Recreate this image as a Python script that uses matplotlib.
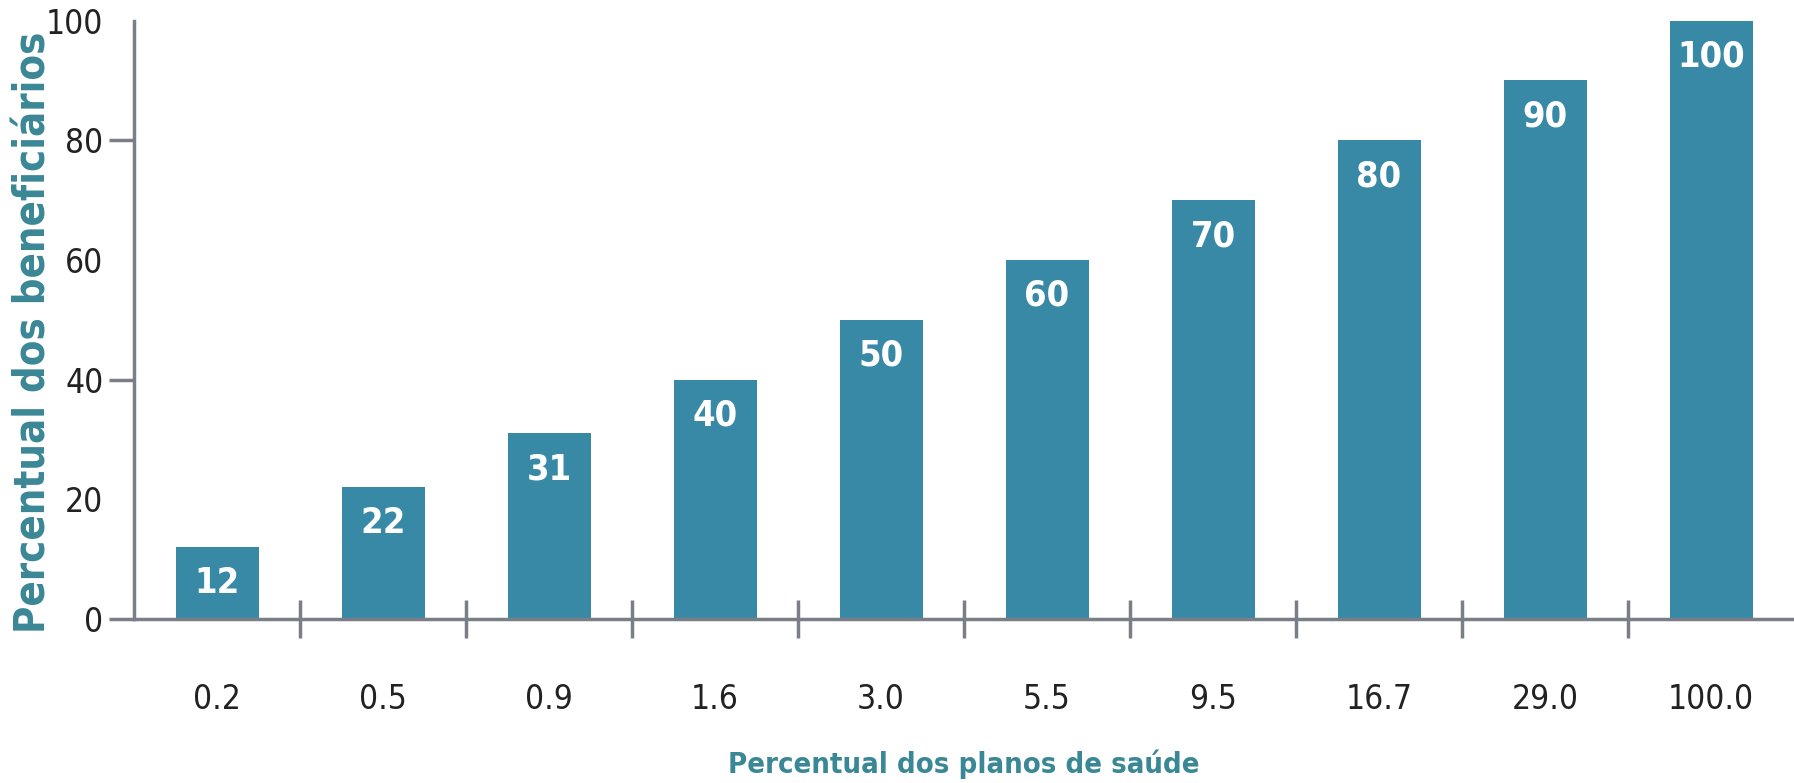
import matplotlib
matplotlib.use("Agg")
import matplotlib.pyplot as plt

plt.rcParams['font.family'] = ['DejaVu Sans']
plt.rcParams['font.stretch'] = 'condensed'

# dados
planos = ["0.2", "0.5", "0.9", "1.6", "3.0", "5.5", "9.5", "16.7", "29.0", "100.0"]
beneficiarios = [12, 22, 31, 40, 50, 60, 70, 80, 90, 100]

cor_barra = "#3889a6"
cor_eixo = "#7a7f87"
cor_titulo = "#3a8796"

fig = plt.figure(figsize=(17.94, 7.83), dpi=100)
ax = fig.add_axes([0.0747, 0.2095, 0.9253, 0.7642])

posicoes = list(range(len(planos)))
ax.bar(posicoes, beneficiarios, width=0.5, color=cor_barra, zorder=2)

# rotulos de valor dentro das barras
for x, v in zip(posicoes, beneficiarios):
    ax.text(x, v - 6, str(v), ha="center", va="center", color="white",
            fontsize=26, fontweight="bold")

ax.set_xlim(-0.5, 9.5)
ax.set_ylim(0, 100)

for lado in ["top", "right"]:
    ax.spines[lado].set_visible(False)
for lado in ["left", "bottom"]:
    ax.spines[lado].set_color(cor_eixo)
    ax.spines[lado].set_linewidth(2.5)

# marcas entre as barras, rotulos no centro
ax.set_xticks([p + 0.5 for p in posicoes[:-1]])
ax.set_xticklabels([])
ax.set_xticks(posicoes, minor=True)
ax.set_xticklabels(planos, minor=True)
ax.tick_params(axis="x", which="major", direction="inout", length=28, width=2.5, color=cor_eixo)
ax.tick_params(axis="x", which="minor", length=0, pad=46, labelsize=24, labelcolor="#222222")

ax.set_yticks([0, 40, 80])
ax.set_yticklabels(["0", "40", "80"])
ax.set_yticks([20, 60, 100], minor=True)
ax.set_yticklabels(["20", "60", "100"], minor=True)
ax.tick_params(axis="y", which="major", direction="out", length=18, width=2.5, color=cor_eixo,
               labelsize=24, labelcolor="#222222", pad=4)
ax.tick_params(axis="y", which="minor", length=0, labelsize=24, labelcolor="#222222", pad=22)

ax.set_xlabel("Percentual dos planos de saúde", fontsize=21, fontweight="bold",
              color=cor_titulo, labelpad=24)
fig.text(34 / 1794, 0.576, "Percentual dos beneficiários", rotation=90, ha="center", va="center",
         fontsize=30, fontweight="bold", color=cor_titulo)

fig.savefig("out.png", dpi=100)
